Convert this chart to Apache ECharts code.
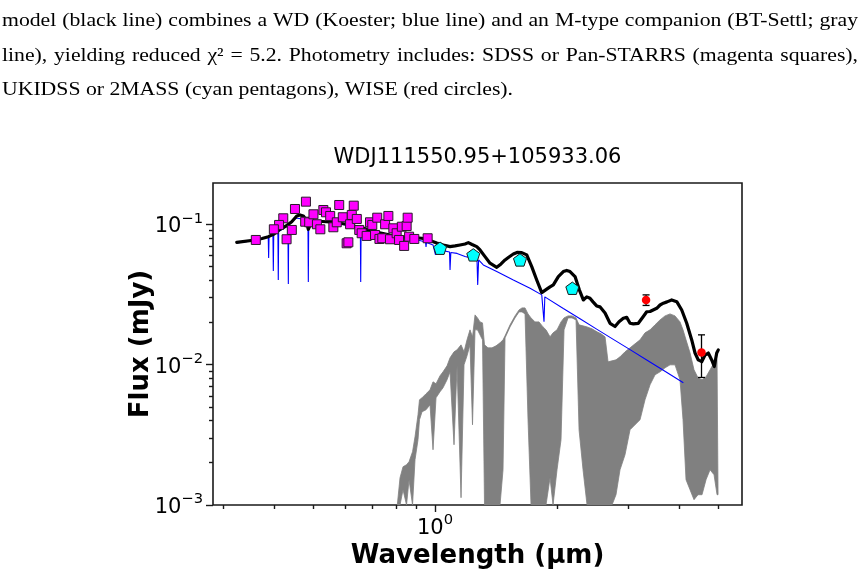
<!DOCTYPE html>
<html><head><meta charset="utf-8">
<script src="https://cdn.jsdelivr.net/npm/echarts@6/dist/echarts.min.js"></script>
<style>html,body{margin:0;padding:0;background:#fff}#c{width:862px;height:578px}</style>
</head><body><div id="c"></div>
<script>
// ---------------- data ----------------
const chartTitle = 'WDJ111550.95+105933.06';
const xAxisTitle = 'Wavelength (µm)';
const yAxisTitle = 'Flux (mJy)';
const captionLines = [
  'model (black line) combines a WD (Koester; blue line) and an M-type companion (BT-Settl; gray',
  'line), yielding reduced χ² = 5.2. Photometry includes: SDSS or Pan-STARRS (magenta squares),',
  'UKIDSS or 2MASS (cyan pentagons), WISE (red circles).'
];

// Combined model (black line)
const modelWave = [0.3239,0.3594,0.3739,0.3877,0.4004,0.4143,0.4286,0.4428,0.4556,0.4642,0.4730,0.4803,0.4866,0.4927,0.5054,0.5506,0.5995,0.6454,0.6554,0.6641,0.7111,0.7743,0.8432,0.9272,0.9627,0.9904,1.0097,1.0483,1.0891,1.1205,1.1527,1.1860,1.2085,1.2343,1.2677,1.2915,1.3288,1.3671,1.4204,1.4555,1.4890,1.5231,1.5609,1.5941,1.6373,1.6845,1.7331,1.7830,1.8345,1.8874,1.9231,1.9595,2.0160,2.0740,2.1144,2.1544,2.2168,2.2716,2.3238,2.3692,2.4138,2.4554,2.5067,2.5541,2.6293,2.7048,2.7826,2.8467,2.9171,2.9741,3.0308,3.0879,3.1769,3.2682,3.3322,3.3956,3.5272,3.5944,3.6622,3.7398,3.8410,3.9525,4.0663,4.1835,4.3039,4.3853,4.4678,4.5551,4.6416,4.7291,4.8215,4.8930,4.9611,5.0061];
const modelFlux = [0.0744,0.0773,0.0792,0.0816,0.0853,0.0921,0.0972,0.1043,0.1146,0.1165,0.1146,0.1073,0.0921,0.1005,0.1055,0.1038,0.1005,0.0957,0.0867,0.0941,0.0882,0.0839,0.0812,0.0795,0.0773,0.0752,0.0736,0.0712,0.0693,0.0701,0.0712,0.0724,0.0740,0.0718,0.0693,0.0656,0.0588,0.0528,0.0494,0.0522,0.0557,0.0585,0.0614,0.0630,0.0628,0.0605,0.0499,0.0401,0.0326,0.0345,0.0358,0.0370,0.0424,0.0460,0.0469,0.0460,0.0424,0.0341,0.0289,0.0304,0.0297,0.0280,0.0262,0.0258,0.0233,0.0197,0.0187,0.0202,0.0214,0.0217,0.0197,0.0195,0.0197,0.0220,0.0238,0.0239,0.0252,0.0266,0.0274,0.0280,0.0289,0.0281,0.0245,0.0197,0.0150,0.0121,0.0108,0.0105,0.0117,0.0121,0.0108,0.00970,0.0121,0.01274];

// White dwarf model (blue line)
const wdWave = [0.3239,0.3590,0.3740,0.3826,0.3874,0.3883,0.3892,0.3979,0.3988,0.3997,0.4093,0.4102,0.4111,0.4333,0.4343,0.4353,0.4538,0.4855,0.4866,0.4877,0.5506,0.6540,0.6554,0.6569,0.7743,0.8675,0.9474,0.9501,0.9528,0.9887,1.0028,1.0114,1.0525,1.0860,1.0891,1.0940,1.1334,1.1860,1.2696,1.2747,1.2813,1.3158,1.4204,1.5609,1.7165,1.8345,1.8523,1.8583,1.8669,1.8874,2.0740,2.2803,2.5067,2.7555,3.0308,3.3322,3.6622,4.1039];
const wdFlux = [0.0736,0.0767,0.0792,0.0805,0.0812,0.0576,0.0819,0.0839,0.0465,0.0846,0.0882,0.0401,0.0889,0.0981,0.0376,0.0989,0.1109,0.1073,0.0388,0.1073,0.1038,0.0941,0.0388,0.0941,0.0839,0.0799,0.0748,0.0689,0.0742,0.0712,0.0605,0.0667,0.0646,0.0635,0.0473,0.0630,0.0620,0.0590,0.0562,0.0370,0.0557,0.0513,0.0460,0.0401,0.0350,0.0314,0.0306,0.0202,0.0304,0.0297,0.0251,0.0212,0.0179,0.01514,0.01279,0.01080,0.00912,0.00743];

// M-dwarf companion (gray spectrum): upper and lower envelope of the dense spectrum
const msWave = [0.8070,0.8196,0.8337,0.8504,0.8627,0.8800,0.8925,0.9078,0.9155,0.9288,0.9501,0.9720,0.9887,1.0057,1.0288,1.0466,1.0706,1.0891,1.1141,1.1334,1.1594,1.1793,1.1995,1.2201,1.2376,1.2554,1.2732,1.2915,1.3100,1.3249,1.3517,1.3826,1.4145,1.4471,1.4720,1.4890,1.5320,1.5761,1.6124,1.6400,1.6681,1.6968,1.7260,1.7657,1.8063,1.8478,1.8796,1.9231,1.9562,2.0010,2.0471,2.0824,2.1304,2.1795,2.2293,2.2681,2.3200,2.3734,2.4418,2.5119,2.5703,2.6293,2.6746,2.7353,2.7983,2.8627,2.9452,3.0308,3.1172,3.2079,3.3001,3.3956,3.4933,3.5944,3.6983,3.8045,3.9141,4.0266,4.0960,4.1667,4.2623,4.3605,4.4609,4.5636,4.6687,4.7762,4.8862,4.9703,4.9990];
const msUpper = [0.001,0.001564,0.001873,0.001935,0.002033,0.002395,0.003063,0.004392,0.005617,0.005804,0.006198,0.006616,0.007543,0.007301,0.008323,0.008888,0.009806,0.011178,0.012335,0.012740,0.013831,0.012335,0.015016,0.017691,0.015775,0.022615,0.021531,0.020164,0.019837,0.013831,0.013167,0.013167,0.013606,0.014291,0.015016,0.016032,0.019200,0.022248,0.024547,0.025367,0.025367,0.022993,0.021531,0.020164,0.020164,0.018578,0.017691,0.015775,0.016841,0.017691,0.020164,0.021531,0.022248,0.022248,0.021531,0.019200,0.018889,0.018578,0.017983,0.017122,0.016567,0.015775,0.010469,0.010641,0.010819,0.011362,0.012335,0.013167,0.014060,0.015016,0.016841,0.017691,0.019200,0.020838,0.022248,0.022993,0.022248,0.020164,0.017691,0.015016,0.012134,0.009183,0.008054,0.007793,0.008187,0.009183,0.010299,0.010819,0.001184];
const msLower = [0.001,0.001,0.001285,0.001,0.001514,0.001,0.002101,0.002916,0.004047,0.004613,0.004768,0.005175,0.002474,0.005804,0.006402,0.006838,0.007793,0.008888,0.002686,0.009806,0.001127,0.009968,0.011549,0.013831,0.003728,0.017691,0.017691,0.016298,0.015016,0.001,0.001,0.001,0.001,0.001,0.001782,0.01551,0.018578,0.021531,0.023757,0.023757,0.022993,0.004047,0.001,0.001,0.001,0.001,0.001,0.001564,0.001,0.001782,0.002916,0.017691,0.021531,0.021531,0.020838,0.003435,0.001782,0.001,0.001,0.001,0.001,0.001,0.001,0.001,0.001184,0.001782,0.002280,0.003435,0.003728,0.004047,0.005617,0.007182,0.008460,0.008888,0.009488,0.009968,0.009968,0.007793,0.004047,0.001514,0.001285,0.001091,0.001184,0.001184,0.001514,0.001782,0.001643,0.001184,0.001184];

// Photometry
const sdssWave = [0.361,0.422,0.412,0.400,0.430,0.443,0.451,0.480,0.478,0.489,0.501,0.511,0.521,0.530,0.538,0.551,0.561,0.572,0.580,0.592,0.605,0.611,0.617,0.623,0.630,0.641,0.650,0.659,0.678,0.691,0.700,0.711,0.720,0.729,0.741,0.753,0.767,0.774,0.789,0.804,0.815,0.828,0.839,0.851,0.856,0.863,0.889,0.959];
const sdssFlux = [0.0773,0.1103,0.0989,0.0921,0.0782,0.0911,0.1285,0.1449,0.1043,0.1033,0.1178,0.1000,0.0921,0.1264,0.1217,0.1146,0.0952,0.1033,0.1372,0.1122,0.0732,0.0744,0.1000,0.1165,0.1357,0.1091,0.0911,0.0863,0.0826,0.1033,0.0989,0.0839,0.1114,0.0786,0.0795,0.1000,0.1146,0.0782,0.0936,0.0863,0.0773,0.0961,0.0701,0.0972,0.1114,0.0816,0.0786,0.0795];
const ukidssWave = [1.029,1.243,1.621,2.183];
const ukidssFlux = [0.0675,0.0605,0.0557,0.0350];
const wiseWave = [3.32,4.55];
const wiseFlux = [0.0289,0.0122];
const wiseErr = [0.0025,0.0041];

// Axes
const xRange = [0.283, 5.728];
const yRange = [0.001, 0.1968];
const xMajorTicks = [1];
const xMinorTicks = [0.3,0.4,0.5,0.6,0.7,0.8,0.9,2,3,4,5];
const yMajorTicks = [0.001,0.01,0.1];
const yMinorTicks = [0.002,0.003,0.004,0.005,0.006,0.007,0.008,0.009,0.02,0.03,0.04,0.05,0.06,0.07,0.08,0.09];

// ---------------- chart ----------------
const zip = (a, b) => a.map((v, i) => [v, b[i]]);
const FONT = '"DejaVu Sans", sans-serif';
const tickColor = '#1a1a1a';

function powLabel(v) {
  const e = Math.round(Math.log10(v));
  return '{b|10}{s|' + (e < 0 ? '\u2212' + (-e) : e) + '}';
}
const powRich = {
  b: { fontSize: 21, fontFamily: FONT, color: '#000', lineHeight: 26, verticalAlign: 'bottom' },
  s: { fontSize: 14.7, fontFamily: FONT, color: '#000', lineHeight: 26, verticalAlign: 'top' }
};

function makeAxis(kind, range, ticks, len, labels, labelMargin) {
  return {
    type: 'log', logBase: 10, min: range[0], max: range[1],
    position: kind === 'x' ? 'bottom' : 'left',
    axisLine: { show: false },
    splitLine: { show: false },
    minorTick: { show: false },
    axisTick: { show: true, inside: false, length: len, customValues: ticks,
                lineStyle: { color: tickColor, width: 1.4 } },
    axisLabel: labels ? { show: true, customValues: ticks, margin: labelMargin,
                          formatter: powLabel, rich: powRich }
                      : { show: false, customValues: ticks }
  };
}

// caption text, justified like the paper's paragraph
function captionGraphics() {
  const ctx = document.createElement('canvas').getContext('2d');
  const fs = 19;
  const font = fs + 'px "Liberation Serif", "Times New Roman", serif';
  ctx.font = font;
  const left = 2, right = 858, lastRight = 513;
  const ys = [21, 56, 90];
  const sx = (lastRight - left) / ctx.measureText(captionLines[2]).width;
  const els = [];
  captionLines.forEach((line, li) => {
    const words = line.split(' ');
    const ws = words.map(w => ctx.measureText(w).width * sx);
    const total = ws.reduce((a, b) => a + b, 0);
    const gap = li < 2 ? (right - left - total) / (words.length - 1)
                       : ctx.measureText(' ').width * sx;
    let x = left;
    words.forEach((w, i) => {
      els.push({ type: 'text', x: x, y: ys[li], scaleX: sx, silent: true,
        style: { text: w, font: font, fill: '#000', textAlign: 'left', align: 'left',
                 textVerticalAlign: 'middle', verticalAlign: 'middle' } });
      x += ws[i] + gap;
    });
  });
  return els;
}

const pentagon = 'path://M0,-10L9.511,-3.09L5.878,8.09L-5.878,8.09L-9.511,-3.09Z';

const option = {
  animation: false,
  backgroundColor: '#fff',
  grid: { left: 213, top: 183, width: 529, height: 322, show: true,
          borderColor: '#1a1a1a', borderWidth: 1.6, backgroundColor: 'transparent',
          containLabel: false, outerBoundsMode: 'none' },
  xAxis: [ makeAxis('x', xRange, xMajorTicks, 7, true, 8),
           makeAxis('x', xRange, xMinorTicks, 4, false, 8) ],
  yAxis: [ makeAxis('y', yRange, yMajorTicks, 7, true, 10),
           makeAxis('y', yRange, yMinorTicks, 4, false, 10) ],
  graphic: [
    { type: 'text', x: 477.5, y: 158, silent: true,
      style: { text: chartTitle, font: '21px ' + FONT, fill: '#000',
               textAlign: 'center', align: 'center', textVerticalAlign: 'middle', verticalAlign: 'middle' } },
    { type: 'text', x: 477.5, y: 556, silent: true,
      style: { text: xAxisTitle, font: 'bold 26px ' + FONT, fill: '#000',
               textAlign: 'center', align: 'center', textVerticalAlign: 'middle', verticalAlign: 'middle' } },
    { type: 'text', x: 141, y: 344, rotation: Math.PI / 2, silent: true,
      style: { text: yAxisTitle, font: 'bold 26px ' + FONT, fill: '#000',
               textAlign: 'center', align: 'center', textVerticalAlign: 'middle', verticalAlign: 'middle' } }
  ].concat(captionGraphics()),
  series: [
    { name: 'BT-Settl', type: 'custom', coordinateSystem: 'cartesian2d',
      xAxisIndex: 0, yAxisIndex: 0, z: 1, silent: true, clip: true,
      data: [[msWave[0], msUpper[0]]],
      renderItem: function (params, api) {
        const pts = [];
        for (let i = 0; i < msWave.length; i++) pts.push(api.coord([msWave[i], msUpper[i]]));
        for (let i = msWave.length - 1; i >= 0; i--) pts.push(api.coord([msWave[i], msLower[i]]));
        return { type: 'polygon', shape: { points: pts },
                 style: { fill: '#808080', stroke: '#808080', lineWidth: 0.8 } };
      } },
    { name: 'Koester WD', type: 'line', data: zip(wdWave, wdFlux), z: 2,
      showSymbol: false, symbol: 'none', silent: true,
      lineStyle: { color: '#0000ff', width: 1.1 } },
    { name: 'Model', type: 'line', data: zip(modelWave, modelFlux), z: 3,
      showSymbol: false, symbol: 'none', silent: true,
      lineStyle: { color: '#000', width: 3.2, join: 'round', cap: 'round' } },
    { name: 'WISE err', type: 'custom', coordinateSystem: 'cartesian2d', z: 4, silent: true,
      data: wiseWave.map((w, i) => [w, wiseFlux[i] - wiseErr[i], wiseFlux[i] + wiseErr[i]]),
      renderItem: function (params, api) {
        const lo = api.coord([api.value(0), api.value(1)]);
        const hi = api.coord([api.value(0), api.value(2)]);
        const st = { stroke: '#000', lineWidth: 1.3 };
        return { type: 'group', children: [
          { type: 'line', shape: { x1: lo[0], y1: lo[1], x2: hi[0], y2: hi[1] }, style: st },
          { type: 'line', shape: { x1: lo[0] - 3.5, y1: lo[1], x2: lo[0] + 3.5, y2: lo[1] }, style: st },
          { type: 'line', shape: { x1: hi[0] - 3.5, y1: hi[1], x2: hi[0] + 3.5, y2: hi[1] }, style: st }
        ] };
      } },
    { name: 'SDSS/Pan-STARRS', type: 'scatter', data: zip(sdssWave, sdssFlux), z: 5,
      symbol: 'rect', symbolSize: 9, silent: true,
      itemStyle: { color: '#ff00ff', borderColor: '#2a1a2a', borderWidth: 1, opacity: 1 } },
    { name: 'UKIDSS/2MASS', type: 'scatter', data: zip(ukidssWave, ukidssFlux), z: 5,
      symbol: pentagon, symbolKeepAspect: true, symbolSize: 13, silent: true,
      itemStyle: { color: '#00ffff', borderColor: '#1a1a1a', borderWidth: 1, opacity: 1 } },
    { name: 'WISE', type: 'scatter', data: zip(wiseWave, wiseFlux), z: 6,
      symbol: 'circle', symbolSize: 8.5, silent: true,
      itemStyle: { color: '#ff0000', opacity: 1 } }
  ]
};

const chart = echarts.init(document.getElementById('c'), null, { renderer: 'canvas' });
chart.setOption(option);
</script></body></html>
